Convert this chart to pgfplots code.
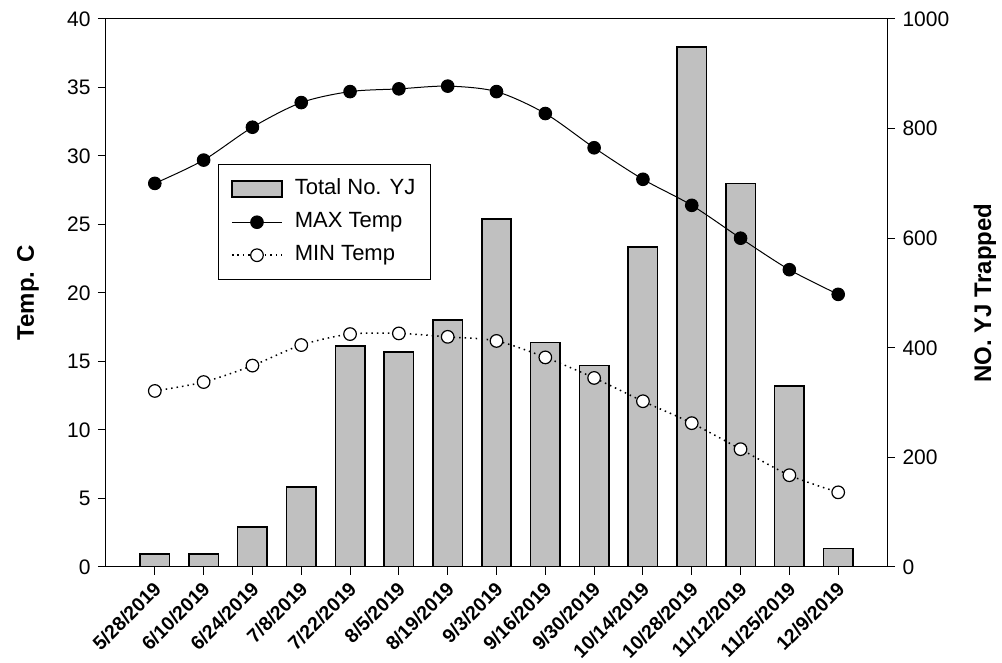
\documentclass[border=0pt]{standalone}
\usepackage{fontspec}
\setmainfont{Liberation Sans}
\usepackage{pgfplots}
\pgfplotsset{compat=1.18}
\definecolor{bargray}{RGB}{192,192,192}
\pgfplotsset{
  /pgf/number format/assume math mode=true,
  /pgf/number format/1000 sep={},
  common/.style={
    scale only axis, width=781pt, height=548pt,
    xmin=-1, xmax=15,
    tick align=outside,
    major tick length=8pt,
    tick style={black, line width=1pt},
    axis line style={black, line width=1pt},
    every tick label/.append style={font=\fontsize{21}{25}\selectfont},
  },
  mylinelegend/.style={legend image code/.code={\draw[##1, mark repeat=2, mark phase=2] plot coordinates {(0pt,0pt) (25pt,0pt) (50pt,0pt)};}},
  mybarlegend/.style={legend image code/.code={\filldraw[fill=bargray, draw=black, line width=1.6pt] (0pt,-8pt) rectangle (50pt,8pt);}},
}
\begin{document}
\begin{tikzpicture}
\useasboundingbox (-106pt,-96pt) rectangle (896pt,567pt);
% bars on the right axis
\begin{axis}[common,
  axis y line*=right, axis x line=none,
  ybar, bar width=29.5pt,
  ymin=0, ymax=1000, ytick={0,200,...,1000},
  ylabel={\bfseries NO. YJ Trapped},
  ylabel style={at={(axis description cs:1.1255,0.5)}, anchor=center, font=\fontsize{24}{28}\selectfont},
  yticklabel style={xshift=4pt},
]
\addplot[fill=bargray, draw=black, line width=1.6pt] coordinates {
(0,24) (1,24) (2,73) (3,146) (4,403) (5,392) (6,451) (7,635) (8,410) (9,368) (10,584) (11,949) (12,700) (13,330) (14,34)
};
\end{axis}
% temperature lines on the left axis
\begin{axis}[common,
  axis lines=box,
  ymin=0, ymax=40, ytick={0,5,...,40},
  xtick={0,...,14},
  xticklabels={5/28/2019,6/10/2019,6/24/2019,7/8/2019,7/22/2019,8/5/2019,8/19/2019,9/3/2019,9/16/2019,9/30/2019,10/14/2019,10/28/2019,11/12/2019,11/25/2019,12/9/2019},
  xtick pos=bottom, ytick pos=left,
  xticklabel style={xshift=-2.5pt, yshift=-0.5pt, rotate=45, anchor=north east, font=\fontsize{19.5}{23}\selectfont\bfseries},
  yticklabel style={xshift=-4pt},
  ylabel={\bfseries Temp. C},
  ylabel style={at={(axis description cs:-0.0999,0.5)}, anchor=center, font=\fontsize{24}{28}\selectfont},
  legend style={at={(0.143,0.735)}, anchor=north west, draw=black, line width=1pt,
    font=\fontsize{22}{26}\selectfont, row sep=10pt, inner xsep=13pt, inner ysep=13pt,
    column sep=10pt,
    nodes={inner sep=2pt, text height=15pt, text depth=4pt}},
  legend cell align=left,
]
\addlegendimage{mybarlegend}
\addlegendentry{Total No. YJ}
\addplot[black, line width=1pt, smooth, mark=*, mark size=6.3pt, mark options={solid, fill=black}, mylinelegend] coordinates {
(0,28.0) (1,29.7) (2,32.1) (3,33.9) (4,34.7) (5,34.9) (6,35.1) (7,34.7) (8,33.1) (9,30.6) (10,28.3) (11,26.4) (12,24.0) (13,21.7) (14,19.9)
};
\addlegendentry{MAX Temp}
\addplot[black, line width=1.5pt, dash pattern=on 1.5pt off 4pt, smooth, mark=*, mark size=6.3pt, mark options={solid, fill=white, line width=1.2pt}, mylinelegend] coordinates {
(0,12.85) (1,13.5) (2,14.7) (3,16.2) (4,17.0) (5,17.05) (6,16.8) (7,16.5) (8,15.3) (9,13.8) (10,12.1) (11,10.5) (12,8.6) (13,6.7) (14,5.45)
};
\addlegendentry{MIN Temp}
\end{axis}
\end{tikzpicture}
\end{document}
